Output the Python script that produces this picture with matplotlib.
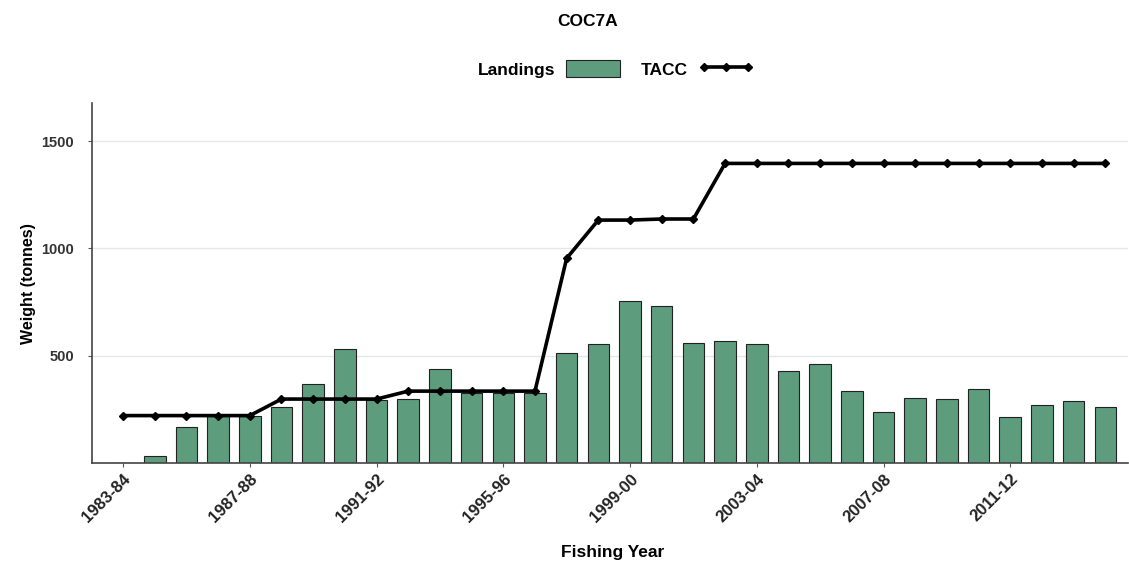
import matplotlib.pyplot as plt
from matplotlib.patches import Patch
from matplotlib.lines import Line2D
import numpy as np

plt.rcParams['font.family'] = ['Liberation Sans', 'DejaVu Sans']
plt.rcParams['font.weight'] = 'bold'

years = ["1983-84", "1984-85", "1985-86", "1986-87", "1987-88", "1988-89",
         "1989-90", "1990-91", "1991-92", "1992-93", "1993-94", "1994-95",
         "1995-96", "1996-97", "1997-98", "1998-99", "1999-00", "2000-01",
         "2001-02", "2002-03", "2003-04", "2004-05", "2005-06", "2006-07",
         "2007-08", "2008-09", "2009-10", "2010-11", "2011-12", "2012-13",
         "2013-14", "2014-15"]
landings = [0, 34, 169, 219, 221, 262, 367, 533, 294, 297, 440, 325,
            325, 325, 511, 553, 755, 733, 558, 568, 553, 429, 460, 335,
            238, 304, 298, 345, 216, 269, 289, 262]
tacc = [221, 221, 221, 221, 221, 298, 298, 298, 298, 335, 335, 335,
        335, 335, 954, 1132, 1132, 1137, 1137, 1396, 1396, 1396, 1396, 1396,
        1396, 1396, 1396, 1396, 1396, 1396, 1396, 1396]

bar_color = "#5d9d7d"

fig = plt.figure(figsize=(11.29, 5.65), dpi=100)
ax = fig.add_axes([0.0815, 0.1805, 0.918, 0.637])

x = np.arange(len(years))
ax.bar(x, landings, width=0.68, color=bar_color, edgecolor="#222222",
       linewidth=0.8, zorder=2)
ax.plot(x, tacc, color="black", linewidth=2.6, marker="D", markersize=4,
        zorder=3)

ax.set_xlim(-0.98, 31.73)
ax.set_ylim(0, 1677)
ax.set_yticks([500, 1000, 1500])
ax.yaxis.grid(True, color="#e6e6e6", linewidth=1, zorder=0)
ax.set_axisbelow(True)

ax.set_xticks(x[::4])
ax.set_xticklabels(years[::4], rotation=45, ha="right", rotation_mode="anchor",
                   fontsize=12, fontweight="bold", color="#222222")
for lab in ax.get_yticklabels():
    lab.set_fontsize(10.5)
    lab.set_fontweight("bold")
    lab.set_color("#333333")
ax.tick_params(axis="both", length=3, color="#555555")
ax.tick_params(axis="x", pad=3)
ax.tick_params(axis="y", pad=10)

for side in ["top", "right"]:
    ax.spines[side].set_visible(False)
for side in ["left", "bottom"]:
    ax.spines[side].set_color("#444444")
    ax.spines[side].set_linewidth(1.2)

ax.set_ylabel("Weight (tonnes)", fontsize=11.5, fontweight="bold", labelpad=4)
fig.text(0.543, 1 - 553 / 565, "Fishing Year", ha="center", va="center",
         fontsize=12.5, fontweight="bold")

fig.suptitle("COC7A", x=0.52, y=0.975, fontsize=12.5, fontweight="bold")

handles = [Patch(facecolor=bar_color, edgecolor="#222222", linewidth=0.8),
           Line2D([0], [0], color="black", linewidth=2.6, marker="D",
                  markersize=4)]
leg = fig.legend(handles, ["Landings", "TACC"], loc="center",
                 bbox_to_anchor=(0.545, 0.878), ncol=2, frameon=False,
                 markerfirst=False, handlelength=3.1, handleheight=1.1,
                 columnspacing=1.2, handletextpad=0.65, numpoints=3,
                 prop={"weight": "bold", "size": 12.5})

fig.savefig("out.png", dpi=100)
